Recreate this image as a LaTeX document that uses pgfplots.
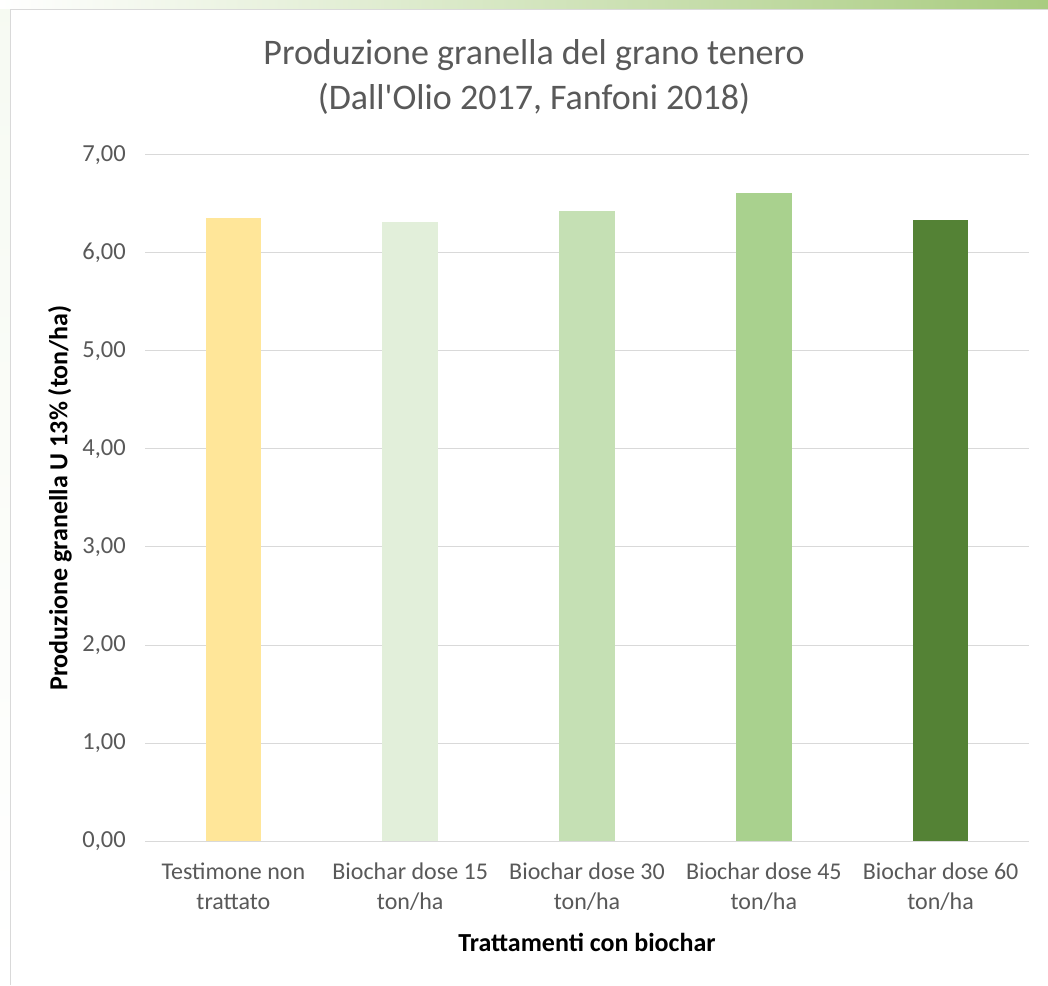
\documentclass[border=0pt]{standalone}
\usepackage{pgfplots}
\pgfplotsset{compat=1.18}
\usepackage{fontspec}
\setmainfont{Carlito}
\newfontfamily\titlefont{Carlito}
\definecolor{txt}{HTML}{595959}
\definecolor{gridc}{HTML}{D9D9D9}
\definecolor{c1}{HTML}{FFE699}
\definecolor{c2}{HTML}{E2EFDA}
\definecolor{c3}{HTML}{C5E0B4}
\definecolor{c4}{HTML}{A9D18E}
\definecolor{c5}{HTML}{548235}
\definecolor{bandg}{HTML}{A9CC80}
\begin{document}
\begin{tikzpicture}[x=1pt,y=1pt]
\path[use as bounding box] (0,0) rectangle (1048,985);
\fill[white] (0,0) rectangle (1048,985);
\shade[left color=white,right color=bandg] (0,975) rectangle (1048,985);
\shade[top color=white!90!bandg,bottom color=white] (0,0) rectangle (10,975);
\draw[gridc,line width=1.2pt] (10.5,0) -- (10.5,975.5) -- (1048,975.5);
\begin{axis}[
  at={(145pt,144pt)}, anchor=south west,
  scale only axis, width=884pt, height=686pt,
  xmin=-0.5, xmax=4.5, ymin=0, ymax=7,
  ybar, bar width=55.5pt,
  axis line style={draw=none},
  axis x line*=bottom,
  x axis line style={draw=gridc, line width=1pt},
  ytick={0,1,...,7},
  xtick={0,1,2,3,4},
  xticklabels={{Testimone non\\trattato},{Biochar dose 15\\ton/ha},{Biochar dose 30\\ton/ha},{Biochar dose 45\\ton/ha},{Biochar dose 60\\ton/ha}},
  major tick length=0pt,
  ymajorgrids, grid style={gridc, line width=1pt},
  /pgf/number format/assume math mode=true,
  yticklabel={\pgfmathprintnumber[fixed,fixed zerofill,precision=2,use comma]{\tick}},
  yticklabel style={font=\fontsize{24.5}{28}\selectfont, text=txt, inner sep=0pt, xshift=-19pt},
  xticklabel style={font=\fontsize{24}{30}\selectfont, text=txt, align=center, inner sep=0pt, yshift=-22pt},
  xlabel={Trattamenti con biochar},
  ylabel={Produzione granella U 13\% (ton/ha)},
  every axis x label/.style={at={(axis description cs:0.5,0)}, yshift=-101pt, anchor=center, font=\bfseries\fontsize{26}{30}\selectfont},
  every axis y label/.style={at={(axis description cs:0,0.5)}, xshift=-85pt, rotate=90, anchor=center, font=\bfseries\fontsize{26}{30}\selectfont},
  clip=false,
]
\addplot[fill=c1, draw=none, bar shift=0pt] coordinates {(0,6.36)};
\addplot[fill=c2, draw=none, bar shift=0pt] coordinates {(1,6.32)};
\addplot[fill=c3, draw=none, bar shift=0pt] coordinates {(2,6.43)};
\addplot[fill=c4, draw=none, bar shift=0pt] coordinates {(3,6.61)};
\addplot[fill=c5, draw=none, bar shift=0pt] coordinates {(4,6.34)};
\end{axis}
\node[align=center, text=txt, font=\titlefont\fontsize{36}{45}\selectfont] at (534,908) {Produzione granella del grano tenero\\(Dall'Olio 2017, Fanfoni 2018)};
\end{tikzpicture}
\end{document}
